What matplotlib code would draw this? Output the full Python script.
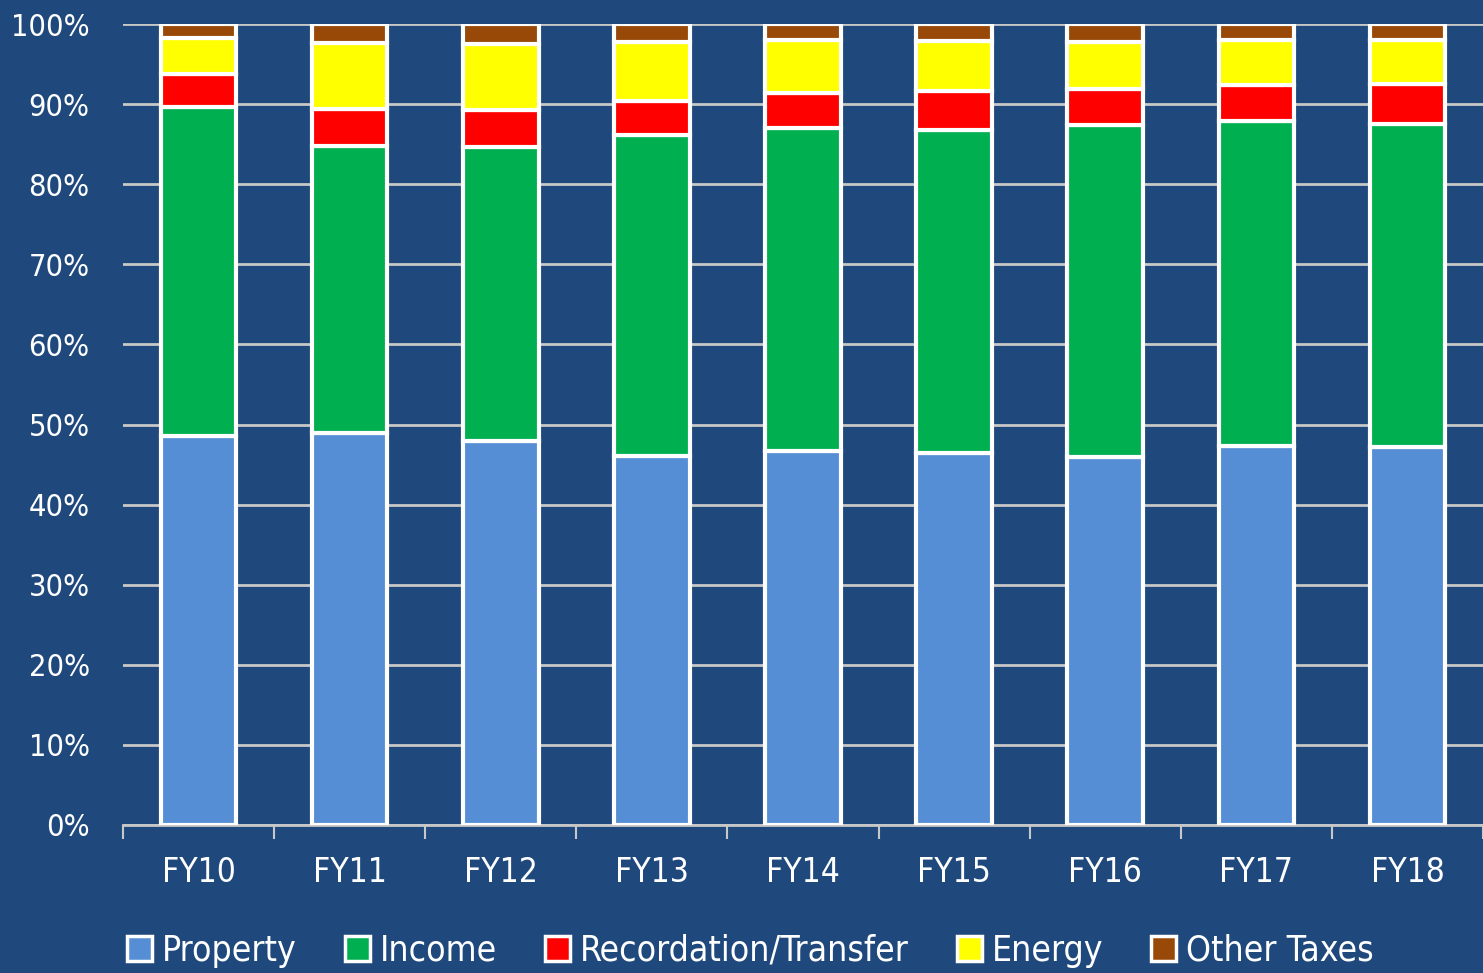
import numpy as np
import matplotlib
matplotlib.use('Agg')
import matplotlib.pyplot as plt
from matplotlib import font_manager as fm
from matplotlib.patches import Patch

# look for a narrow sans face (Arial Narrow look-alike), else fall back
narrow = None
for f in fm.fontManager.ttflist:
    if f.style != 'normal' or f.weight not in (400, 'normal', 'regular'):
        continue
    if 'Narrow' in f.name or 'Condensed' in f.name or \
            str(f.stretch) in ('condensed', 'semi-condensed', '500', '300'):
        if 'Sans' in f.name or 'Roboto' in f.name:
            narrow = f.fname
            break

if narrow:
    fp = fm.FontProperties(fname=narrow)
    scale = 1.0
else:
    fp = fm.FontProperties(family='Liberation Sans')
    scale = 0.85

# --- data (share of total, %)
years = ['FY10', 'FY11', 'FY12', 'FY13', 'FY14', 'FY15', 'FY16', 'FY17', 'FY18']
property_tax = [48.6, 49.0, 48.0, 46.1, 46.7, 46.4, 45.9, 47.35, 47.2]
income = [41.0, 35.8, 36.6, 40.0, 40.3, 40.4, 41.5, 40.55, 40.26]
recordation = [4.2, 4.6, 4.7, 4.3, 4.4, 4.8, 4.5, 4.5, 5.0]
energy = [4.4, 8.2, 8.25, 7.35, 6.56, 6.3, 5.9, 5.56, 5.5]
other = [1.8, 2.4, 2.45, 2.25, 2.04, 2.1, 2.2, 2.04, 2.04]

series = [property_tax, income, recordation, energy, other]
names = ['Property', 'Income', 'Recordation/Transfer', 'Energy', 'Other Taxes']
colors = ['#558ED5', '#00B050', '#FF0000', '#FFFF00', '#984807']

bg = '#1F497D'
grid_col = '#C8C8C8'

fig = plt.figure(figsize=(14.83, 9.73), dpi=100, facecolor=bg)
ax = fig.add_axes([123/1483, 148/973, 1 - 123/1483, (825-24)/973])
ax.set_facecolor(bg)

x = np.arange(len(years))
bottom = np.zeros(len(years))
for vals, c in zip(series, colors):
    vals = np.array(vals)
    ax.bar(x, vals, 0.5, bottom=bottom, color=c, edgecolor='white',
           linewidth=3, zorder=3)
    bottom += vals

ax.set_xlim(-0.5, len(years) - 0.52)
ax.set_ylim(0, 100)
ax.set_yticks(np.arange(0, 101, 10))
ax.set_yticklabels(['%d%%' % v for v in range(0, 101, 10)])
ax.yaxis.grid(True, color=grid_col, linewidth=2, zorder=0)
ax.tick_params(axis='y', length=0, pad=24, labelcolor='white')

ax.set_xticks(x)
ax.set_xticklabels(years)
ax.set_xticks(np.arange(-0.5, len(years), 1), minor=True)
ax.tick_params(axis='x', which='major', length=0, pad=22, labelcolor='white')
ax.tick_params(axis='x', which='minor', length=10, width=1.5, color=grid_col)

for lab in ax.get_yticklabels():
    lab.set_fontproperties(fp)
    lab.set_fontsize(22 * scale)
for lab in ax.get_xticklabels():
    lab.set_fontproperties(fp)
    lab.set_fontsize(24 * scale)

for s in ['left', 'right', 'top']:
    ax.spines[s].set_visible(False)
ax.spines['bottom'].set_color(grid_col)
ax.spines['bottom'].set_linewidth(2)

lp = fp.copy()
lp.set_size(25.5 * scale)
handles = [Patch(facecolor=c, edgecolor='white', linewidth=2.5) for c in colors]
leg = fig.legend(handles, names, loc='center', ncol=5,
                 bbox_to_anchor=(0.506, 0.023), frameon=False, prop=lp,
                 labelcolor='white', handlelength=0.7, handleheight=0.7,
                 handletextpad=0.28, columnspacing=1.36)

fig.savefig('out.png', dpi=100, facecolor=bg)
